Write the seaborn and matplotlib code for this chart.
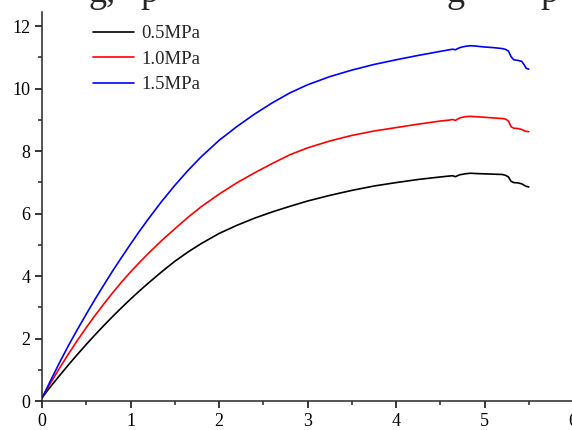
import pandas as pd
import matplotlib
matplotlib.use('Agg')
import matplotlib.pyplot as plt
from matplotlib.ticker import MultipleLocator
import seaborn as sns

# x values shared by the three curves
x = [0, 0.05, 0.1, 0.2, 0.3, 0.4, 0.5, 0.6, 0.7, 0.8, 0.9, 1.0, 1.1, 1.2,
     1.35, 1.5, 1.65, 1.8, 2.0, 2.2, 2.4, 2.6, 2.8, 3.0, 3.25, 3.5, 3.75,
     4.0, 4.25, 4.5, 4.6, 4.64, 4.67, 4.72, 4.78, 4.84, 4.9, 5.0, 5.1, 5.2,
     5.24, 5.27, 5.3, 5.33, 5.38, 5.42, 5.45, 5.47, 5.5]

y_05 = [0.1, 0.29, 0.47, 0.82, 1.16, 1.49, 1.81, 2.12, 2.42, 2.71, 2.99, 3.26,
        3.52, 3.77, 4.13, 4.47, 4.77, 5.04, 5.36, 5.62, 5.85, 6.05, 6.23, 6.4,
        6.58, 6.74, 6.88, 6.99, 7.09, 7.17, 7.2, 7.21, 7.18, 7.24, 7.27, 7.29,
        7.28, 7.27, 7.26, 7.25, 7.22, 7.17, 7.03, 6.99, 6.98, 6.95, 6.9, 6.87,
        6.85]
y_10 = [0.1, 0.35, 0.59, 1.06, 1.51, 1.94, 2.35, 2.74, 3.11, 3.47, 3.81, 4.13,
        4.43, 4.72, 5.13, 5.51, 5.88, 6.22, 6.62, 6.98, 7.3, 7.6, 7.88, 8.1,
        8.32, 8.5, 8.64, 8.75, 8.86, 8.96, 8.99, 9.01, 8.98, 9.06, 9.1, 9.11,
        9.1, 9.08, 9.06, 9.04, 9.02, 8.96, 8.78, 8.73, 8.72, 8.69, 8.65, 8.63,
        8.62]
y_15 = [0.1, 0.38, 0.67, 1.24, 1.78, 2.29, 2.78, 3.26, 3.72, 4.17, 4.6, 5.02,
        5.43, 5.82, 6.38, 6.9, 7.38, 7.82, 8.34, 8.78, 9.18, 9.54, 9.86, 10.12,
        10.38, 10.59, 10.77, 10.92, 11.06, 11.19, 11.24, 11.26, 11.24, 11.31,
        11.35, 11.37, 11.36, 11.33, 11.31, 11.28, 11.25, 11.2, 11.02, 10.92,
        10.9, 10.87, 10.75, 10.65, 10.62]

labels = ['0.5MPa', '1.0MPa', '1.5MPa']
colors = ['black', 'red', 'blue']

df = pd.concat([
    pd.DataFrame({'x': x, 'y': y_05, 'p': labels[0]}),
    pd.DataFrame({'x': x, 'y': y_10, 'p': labels[1]}),
    pd.DataFrame({'x': x, 'y': y_15, 'p': labels[2]}),
])

sns.set_theme(style='ticks')
plt.rcParams['font.family'] = ['Liberation Serif', 'DejaVu Serif']
plt.rcParams['axes.linewidth'] = 1.1

fig = plt.figure(figsize=(5.72, 4.3), dpi=100)
ax = fig.add_axes([42 / 572, 29 / 430, 557.6 / 572, 389 / 430])

sns.lineplot(data=df, x='x', y='y', hue='p', palette=colors, sort=False,
             linewidth=1.2, ax=ax, estimator=None)

ax.set_xlim(0, 6.3)
ax.set_ylim(0, 12.45)
ax.xaxis.set_major_locator(MultipleLocator(1))
ax.xaxis.set_minor_locator(MultipleLocator(0.5))
ax.yaxis.set_major_locator(MultipleLocator(2))
ax.yaxis.set_minor_locator(MultipleLocator(1))
ax.tick_params(which='major', direction='out', length=5, width=1.1,
               labelsize=13, colors='black')
ax.tick_params(which='minor', direction='out', length=3, width=1.1)
ax.tick_params(axis='x', pad=4)
for lab in ax.get_xticklabels() + ax.get_yticklabels():
    lab.set_family('Liberation Serif')
ax.set_xlabel('')
ax.set_ylabel('')
for s in ['top', 'right']:
    ax.spines[s].set_visible(False)

ax.legend(frameon=False, fontsize=13.5, loc='upper left',
          bbox_to_anchor=(93 / 572, 1 - 25 / 430), bbox_transform=fig.transFigure,
          borderpad=0, borderaxespad=0, handlelength=2.2, handletextpad=0.4,
          labelspacing=0.45)

# cut-off caption line above the chart
fig.text(89 / 572, 1 - 2 / 430, 'g,', fontsize=26, ha='left', va='baseline')
fig.text(140 / 572, 1 - 2 / 430, 'p', fontsize=26, ha='left', va='baseline')
fig.text(447 / 572, 1 - 2 / 430, 'g', fontsize=26, ha='left', va='baseline')
fig.text(540 / 572, 1 - 2 / 430, 'p', fontsize=26, ha='left', va='baseline')

fig.savefig('out.png', dpi=100)
